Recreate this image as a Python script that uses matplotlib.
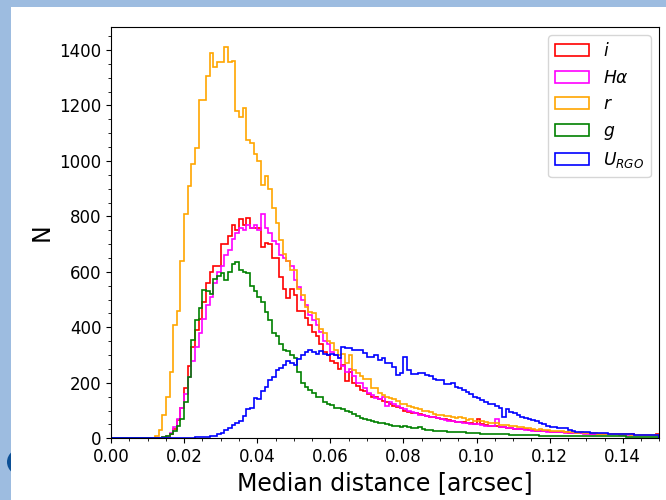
import numpy as np
import matplotlib.pyplot as plt
from matplotlib.patches import Rectangle, Ellipse

# counts per 0.001 arcsec bin (0.000 - 0.150)
bin_width = 0.001

counts_i = [0, 0, 0, 0, 0, 0, 0, 0, 0, 0,
            0, 0, 0, 0, 2, 6, 15, 35, 65, 110,
            180, 260, 330, 390, 430, 490, 560, 600, 620, 620,
            700, 700, 730, 770, 750, 790, 770, 795, 760, 760,
            760, 690, 705, 700, 650, 650, 580, 540, 505, 540,
            515, 460, 460, 435, 410, 385, 370, 340, 310, 300,
            280, 270, 250, 265, 205, 240, 200, 190, 175, 170,
            160, 150, 150, 140, 135, 130, 125, 118, 112, 108,
            100, 96, 92, 90, 86, 84, 82, 78, 76, 72,
            70, 68, 66, 64, 60, 58, 58, 55, 54, 52,
            68, 52, 48, 46, 46, 44, 42, 40, 38, 37,
            35, 34, 33, 32, 31, 30, 28, 27, 26, 26,
            24, 23, 22, 22, 21, 20, 20, 19, 19, 18,
            18, 17, 17, 16, 16, 16, 15, 15, 15, 14,
            14, 14, 14, 13, 13, 13, 13, 12, 12, 14]

counts_ha = [0, 0, 0, 0, 0, 0, 0, 0, 0, 0,
             0, 0, 0, 0, 3, 8, 18, 40, 70, 110,
             160, 220, 280, 330, 380, 430, 480, 510, 560, 600,
             620, 660, 680, 720, 740, 760, 750, 770, 760, 770,
             750, 810, 760, 740, 710, 700, 660, 650, 640, 620,
             570, 545, 500, 480, 445, 425, 410, 385, 350, 340,
             310, 300, 290, 260, 240, 250, 225, 200, 200, 180,
             165, 155, 145, 140, 150, 115, 130, 125, 115, 110,
             105, 100, 95, 90, 85, 85, 80, 78, 75, 72,
             70, 66, 64, 62, 60, 58, 56, 54, 52, 52,
             50, 48, 46, 44, 45, 69, 42, 40, 38, 36,
             35, 33, 32, 31, 30, 28, 27, 26, 25, 24,
             23, 22, 21, 21, 20, 19, 19, 18, 18, 17,
             17, 16, 16, 15, 15, 15, 14, 14, 14, 13,
             13, 13, 13, 12, 12, 12, 12, 12, 11, 11]

counts_r = [0, 0, 0, 0, 0, 0, 0, 0, 0, 0,
            0, 2, 8, 30, 85, 150, 240, 410, 460, 640,
            810, 910, 990, 1045, 1220, 1220, 1305, 1390, 1340, 1355,
            1355, 1410, 1355, 1360, 1180, 1160, 1190, 1075, 1065, 1025,
            1000, 915, 945, 900, 830, 775, 715, 665, 640, 605,
            605, 540, 515, 475, 455, 450, 430, 395, 380, 350,
            345, 320, 300, 305, 270, 300, 245, 235, 225, 215,
            215, 180, 180, 165, 155, 150, 145, 140, 135, 125,
            125, 118, 112, 108, 105, 100, 98, 96, 88, 85,
            84, 80, 82, 76, 74, 75, 72, 66, 68, 64,
            62, 63, 57, 56, 54, 55, 49, 48, 47, 46,
            44, 40, 39, 38, 37, 33, 31, 32, 30, 29,
            28, 26, 26, 25, 24, 24, 21, 20, 21, 19,
            20, 18, 19, 16, 17, 16, 15, 16, 15, 14,
            15, 14, 13, 12, 13, 12, 11, 12, 11, 12]

counts_g = [0, 0, 0, 0, 0, 0, 0, 0, 0, 0,
            0, 0, 0, 2, 4, 8, 15, 25, 45, 70,
            130, 220, 355, 425, 470, 535, 530, 520, 575, 585,
            595, 570, 600, 630, 636, 605, 600, 595, 550, 530,
            510, 490, 455, 425, 380, 370, 340, 320, 315, 300,
            290, 240, 200, 185, 175, 165, 150, 150, 130, 125,
            120, 110, 110, 105, 100, 95, 88, 80, 72, 70,
            66, 62, 58, 55, 54, 52, 48, 46, 44, 42,
            44, 40, 38, 36, 40, 32, 30, 30, 28, 27,
            26, 25, 24, 23, 22, 22, 21, 20, 19, 18,
            18, 17, 17, 16, 16, 15, 15, 14, 14, 13,
            13, 12, 12, 12, 11, 11, 11, 10, 10, 10,
            10, 9, 9, 9, 9, 9, 8, 8, 8, 8,
            8, 8, 7, 7, 7, 7, 7, 7, 7, 7,
            7, 6, 6, 6, 6, 6, 6, 6, 6, 6]

counts_u = [0, 0, 0, 0, 0, 0, 0, 0, 0, 0,
            0, 0, 0, 0, 0, 0, 0, 0, 0, 0,
            1, 2, 2, 3, 4, 5, 6, 8, 10, 14,
            20, 30, 38, 48, 55, 62, 80, 105, 110, 145,
            140, 170, 185, 210, 220, 245, 255, 265, 280, 270,
            265, 285, 300, 310, 320, 310, 305, 315, 305, 300,
            305, 300, 290, 330, 325, 325, 318, 318, 318, 306,
            294, 294, 300, 281, 288, 270, 270, 257, 227, 235,
            294, 245, 233, 233, 235, 235, 227, 225, 215, 212,
            210, 195, 195, 200, 185, 180, 175, 168, 160, 150,
            145, 138, 130, 122, 125, 115, 108, 78, 105, 95,
            90, 85, 78, 72, 70, 66, 62, 55, 50, 45,
            42, 40, 38, 36, 36, 30, 25, 24, 22, 22,
            21, 20, 20, 19, 18, 18, 17, 16, 16, 15,
            15, 14, 14, 13, 13, 12, 12, 12, 12, 12]

series = [counts_i, counts_ha, counts_r, counts_g, counts_u]
labels = ['$i$', r'$H\alpha$', '$r$', '$g$', r'$U_{RGO}$']
colors = ['red', 'magenta', 'orange', 'green', 'blue']

edges = np.round(np.arange(len(counts_i) + 1) * bin_width, 4)
centers = edges[:-1] + bin_width / 2

fig = plt.figure(figsize=(6.66, 5), dpi=100, facecolor='#9dbce0')
# slide background: white panel and a bit of the logo peeking out
fig.patches.append(Ellipse((25 / 666, 38 / 500), 36 / 666, 30 / 500,
                           transform=fig.transFigure, facecolor='#0b4f96',
                           edgecolor='none', zorder=-2))
fig.patches.append(Rectangle((11 / 666, 0), 1, 493 / 500,
                             transform=fig.transFigure, facecolor='white',
                             edgecolor='none', zorder=-1))

ax = fig.add_axes([0.1667, 0.1234, 0.8233, 0.8232])
for c, lab, col in zip(series, labels, colors):
    ax.hist(centers, bins=edges, weights=c, histtype='step', color=col,
            label=lab, linewidth=1.2)

ax.set_xlim(0, 0.15)
ax.set_ylim(0, 1484)
ax.minorticks_on()
ax.tick_params(labelsize=12)
ax.set_xlabel('Median distance [arcsec]', fontsize=17)
ax.set_ylabel('N', fontsize=17)
ax.legend(loc='upper right', fontsize=12.3)

fig.savefig('out.png', dpi=100, facecolor=fig.get_facecolor())
